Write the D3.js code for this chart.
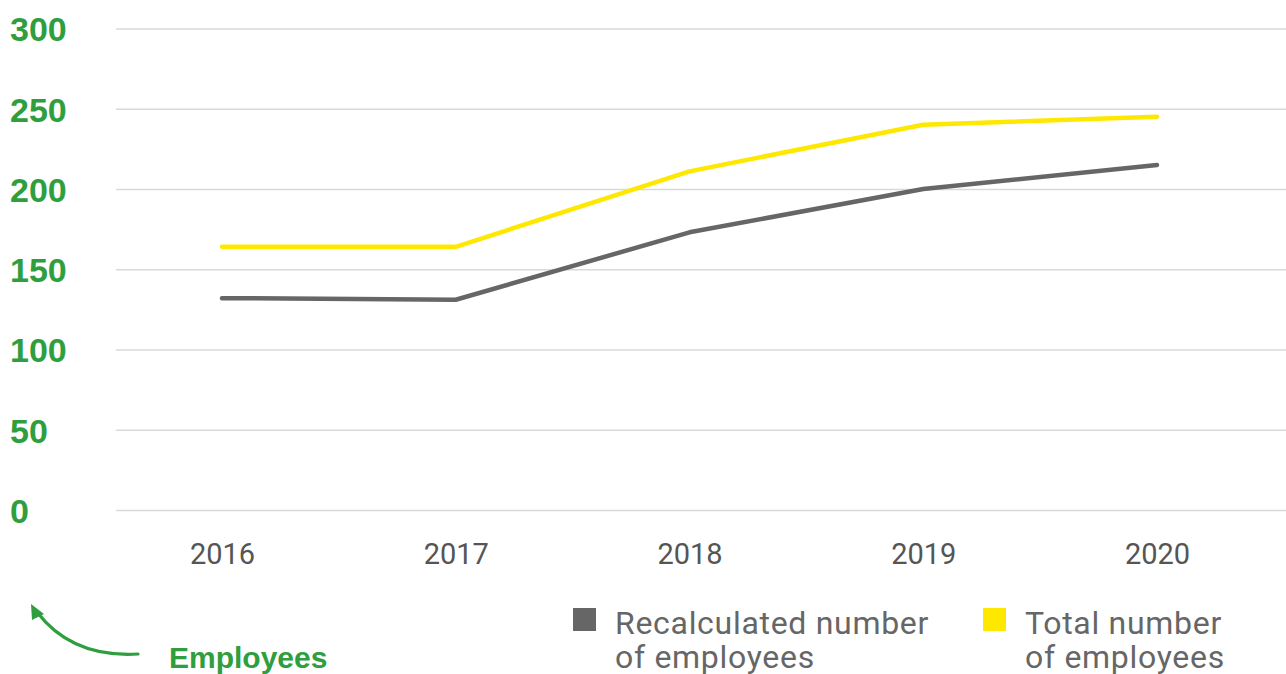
<!DOCTYPE html>
<html>
<head>
<meta charset="utf-8">
<script src="https://cdn.jsdelivr.net/npm/d3@7"></script>
<style>
  html, body { margin: 0; padding: 0; background: #fff; }
  svg { display: block; }
</style>
</head>
<body>
<svg id="chart" width="1286" height="674"></svg>
<script>
const years = ["2016", "2017", "2018", "2019", "2020"];
const recalculated = [132, 131, 173, 200, 215];
const total = [164, 164, 211, 240, 245];
const yTicks = [0, 50, 100, 150, 200, 250, 300];
const seriesNames = ["Recalculated number\nof employees", "Total number\nof employees"];
const seriesColors = ["#666666", "#ffe800"];
const axisTitle = "Employees";

const green = "#2e9e3e";
const svg = d3.select("#chart");

const x = d3.scalePoint().domain(years).range([222, 1157]);
const y = d3.scaleLinear().domain([0, 300]).range([510, 28.5]);

// gridlines
const yAxis = d3.axisLeft(y).tickValues(yTicks).tickSize(0).tickFormat(d3.format("d"));
const gy = svg.append("g").attr("transform", "translate(116,0)").call(yAxis);
gy.select(".domain").remove();
gy.selectAll(".tick line")
  .attr("x1", 0).attr("x2", 1286 - 116)
  .attr("stroke", "#d9d9d9").attr("stroke-width", 1.5);
gy.selectAll(".tick text")
  .attr("x", -106).attr("dy", "0.36em")
  .attr("text-anchor", "start")
  .attr("fill", green)
  .style("font-family", "'Liberation Sans', Arial, sans-serif")
  .style("font-weight", "bold")
  .style("font-size", "34px");

// x axis labels
const xAxis = d3.axisBottom(x).tickSize(0);
const gx = svg.append("g").attr("transform", "translate(0,510)").call(xAxis);
gx.select(".domain").remove();
gx.selectAll(".tick text")
  .attr("y", 54).attr("dy", 0)
  .attr("fill", "#555555")
  .style("font-family", "Roboto, 'Liberation Sans', sans-serif")
  .style("font-size", "29px");

// lines
const line = d3.line().x((d, i) => x(years[i])).y(d => y(d));
[[total, seriesColors[1]], [recalculated, seriesColors[0]]].forEach(([s, color]) => {
  svg.append("path")
    .datum(s)
    .attr("d", line)
    .attr("fill", "none")
    .attr("stroke", color)
    .attr("stroke-width", 4.5)
    .attr("stroke-linecap", "round")
    .attr("stroke-linejoin", "round");
});

// legend
const legendX = [573, 983];
seriesNames.forEach((name, i) => {
  const g = svg.append("g").attr("transform", `translate(${legendX[i]},608)`);
  g.append("rect").attr("width", 23).attr("height", 23).attr("fill", seriesColors[i]);
  name.split("\n").forEach((ln, j) => {
    g.append("text")
      .attr("x", 42).attr("y", 26 + j * 34)
      .attr("fill", "#666666")
      .style("font-family", "Roboto, 'Liberation Sans', sans-serif")
      .style("font-size", "32px")
      .style("letter-spacing", "0.7px")
      .text(ln);
  });
});

// axis title with arrow
svg.append("text")
  .attr("x", 169).attr("y", 668)
  .attr("fill", green)
  .style("font-family", "'Liberation Sans', Arial, sans-serif")
  .style("font-weight", "bold")
  .style("font-size", "30px")
  .text(axisTitle);

svg.append("path")
  .attr("d", "M138,654 Q72,658 37,612")
  .attr("fill", "none")
  .attr("stroke", green)
  .attr("stroke-width", 3.2)
  .attr("stroke-linecap", "round");
svg.append("path")
  .attr("d", "M31,604 L32,620 L44,614 Z")
  .attr("fill", green);
</script>
</body>
</html>
